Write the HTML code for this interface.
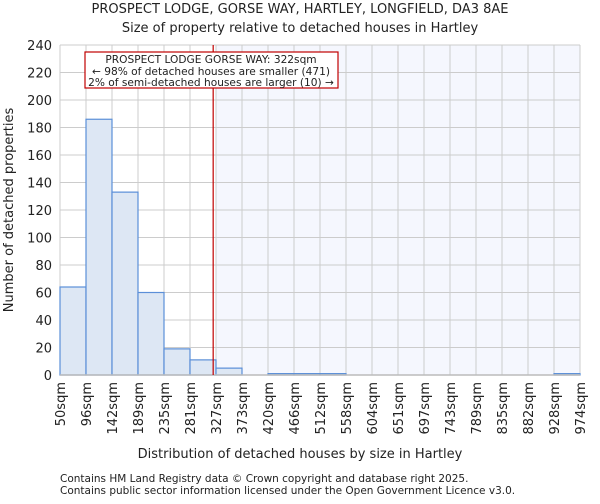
<!DOCTYPE html>
<html><head><meta charset="utf-8"><style>
body{margin:0;background:#fff;font-family:"DejaVu Sans","Liberation Sans",sans-serif;}
svg text{font-family:"DejaVu Sans","Liberation Sans",sans-serif;fill:#222;}
</style></head><body>
<svg id="c" width="600" height="500"></svg>
<script>
const binLabels=["50sqm","96sqm","142sqm","189sqm","235sqm","281sqm","327sqm","373sqm","420sqm","466sqm","512sqm","558sqm","604sqm","651sqm","697sqm","743sqm","789sqm","835sqm","882sqm","928sqm","974sqm"];
const counts=[64,186,133,60,19,11,5,0,1,1,1,0,0,0,0,0,0,0,0,1];
const yTicks=[0,20,40,60,80,100,120,140,160,180,200,220,240];
const markerValue=322;
const NS="http://www.w3.org/2000/svg";
const svg=document.getElementById('c');
const L=60,R=580,T=45,B=375,ymax=240;
const bw=(R-L)/counts.length;
const y=v=>B-(v/ymax)*(B-T);
const x=i=>L+i*bw;
const xv=v=>{const e=binLabels.map(s=>parseFloat(s));for(let i=0;i<e.length-1;i++){if(v>=e[i]&&v<=e[i+1])return x(i)+(v-e[i])/(e[i+1]-e[i])*bw;}return R;};
function el(t,a,p){const e=document.createElementNS(NS,t);for(const k in a)e.setAttribute(k,a[k]);(p||svg).appendChild(e);return e;}
let sh=el('rect',{x:x(6),y:T,width:R-x(6),height:B-T,fill:'#f5f7fe'});


yTicks.forEach(v=>{let g=el('line',{x1:L,x2:R,y1:y(v),y2:y(v),stroke:'#cccccc','stroke-width':1});


let t=el('text',{x:L-8,y:y(v)+5,'text-anchor':'end','font-size':13});t.textContent=v;

});
binLabels.forEach((s,i)=>{let g=el('line',{x1:x(i),x2:x(i),y1:T,y2:B,stroke:'#cccccc','stroke-width':1});


let t=el('text',{x:0,y:0,'text-anchor':'end','font-size':13,transform:`translate(${x(i)+5},${B+7}) rotate(-90)`});t.textContent=s;

});
counts.forEach((c,i)=>{if(c<=0)return;let r=el('rect',{x:x(i),y:y(c),width:bw,height:B-y(c),fill:'#dde7f4',stroke:'#5b8fd8','stroke-width':1.2});

});
let ax=el('line',{x1:L,x2:R,y1:B,y2:B,stroke:'#bbb','stroke-width':1.5});


let m=el('line',{x1:xv(markerValue),x2:xv(markerValue),y1:T,y2:B,stroke:'#c00000','stroke-width':1.2});


</script>
<svg style="position:absolute;left:0;top:0" width="600" height="500">
<rect x="85" y="52" width="253" height="36" fill="#fff" stroke="#c00000" stroke-width="1.2"/>
<text x="211" y="63" text-anchor="middle" font-size="10.6">PROSPECT LODGE GORSE WAY: 322sqm</text>
<text x="211" y="75" text-anchor="middle" font-size="10.6">← 98% of detached houses are smaller (471)</text>
<text x="211" y="86" text-anchor="middle" font-size="10.6">2% of semi-detached houses are larger (10) →</text>
<text x="300" y="13" text-anchor="middle" font-size="13">PROSPECT LODGE, GORSE WAY, HARTLEY, LONGFIELD, DA3 8AE</text>
<text x="300" y="32" text-anchor="middle" font-size="13">Size of property relative to detached houses in Hartley</text>
<text x="300" y="458" text-anchor="middle" font-size="13">Distribution of detached houses by size in Hartley</text>
<text transform="translate(13,210) rotate(-90)" text-anchor="middle" font-size="13">Number of detached properties</text>
<text x="60" y="482" font-size="10.5" fill="#444">Contains HM Land Registry data © Crown copyright and database right 2025.</text>
<text x="60" y="494" font-size="10.5" fill="#444">Contains public sector information licensed under the Open Government Licence v3.0.</text>
</svg>
</body></html>
